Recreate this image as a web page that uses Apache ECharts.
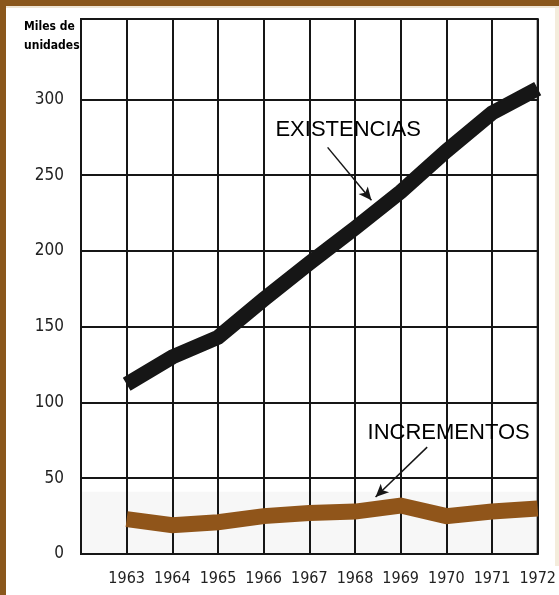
<!DOCTYPE html>
<html>
<head>
<meta charset="utf-8">
<script src="https://cdn.jsdelivr.net/npm/echarts@6/dist/echarts.min.js"></script>
<style>
html,body{margin:0;padding:0;background:#fff;}
#chart{width:559px;height:595px;}
</style>
</head>
<body>
<div id="chart"></div>
<script>
const years = [1963, 1964, 1965, 1966, 1967, 1968, 1969, 1970, 1971, 1972];
const existencias = [112, 130, 143, 168, 192, 215, 239, 266, 291, 307];
const incrementos = [23, 19, 21, 25, 27, 28, 32, 25, 28, 30];
const yTickLabels = [0, 50, 100, 150, 200, 250, 300];
const yGridValues = [50, 100, 150, 200, 250, 300];
const axisTitle = 'Miles de\nunidades';
const labelExistencias = 'EXISTENCIAS';
const labelIncrementos = 'INCREMENTOS';

const narrow = "'Liberation Sans Narrow', 'DejaVu Sans Condensed', 'Liberation Sans', sans-serif";
const ink = '#161616';
const brown = '#90551a';

const chart = echarts.init(document.getElementById('chart'), null, {renderer: 'canvas'});

const pairs = (vals) => years.map((y, i) => [y, vals[i]]);

chart.setOption({
  backgroundColor: '#ffffff',
  animation: false,
  title: {
    text: axisTitle,
    left: 19, top: 12,
    textStyle: {fontFamily: narrow, fontSize: 12, fontWeight: 'bold', color: '#000', lineHeight: 19}
  },
  grid: {
    left: 81, right: 11, top: 19, bottom: 41,
    show: true, borderColor: ink, borderWidth: 2, backgroundColor: 'transparent'
  },
  xAxis: {
    type: 'value', min: 1962, max: 1972, interval: 1,
    axisLine: {show: true, lineStyle: {color: ink, width: 2}},
    axisTick: {show: false},
    splitLine: {show: true, lineStyle: {color: ink, width: 2}},
    axisLabel: {
      margin: 17, fontFamily: narrow, fontSize: 16, color: '#222',
      formatter: (v) => years.indexOf(v) >= 0 ? String(v) : ''
    }
  },
  yAxis: {
    type: 'value', min: 0, max: 353, interval: 50,
    axisLine: {show: true, lineStyle: {color: ink, width: 2}},
    axisTick: {show: false},
    splitLine: {show: false},
    axisLabel: {
      margin: 17, fontFamily: narrow, fontSize: 17, color: '#222',
      formatter: (v) => yTickLabels.indexOf(v) >= 0 ? String(v) : ''
    }
  },
  series: [
    {
      name: 'grid', type: 'line', data: pairs(existencias), silent: true, z: 1,
      showSymbol: false, lineStyle: {width: 0, opacity: 0},
      markArea: {
        silent: true, z: 0,
        itemStyle: {color: 'rgba(40,40,20,0.035)'},
        data: [[{yAxis: 0}, {yAxis: 41}]]
      },
      markLine: {
        silent: true, z: 1, symbol: ['none', 'none'],
        label: {show: false},
        lineStyle: {color: ink, width: 2, type: 'solid'},
        data: yGridValues.map(v => ({yAxis: v}))
      }
    },
    {
      name: 'EXISTENCIAS', type: 'line', data: pairs(existencias), z: 6,
      showSymbol: false, silent: true,
      lineStyle: {color: ink, width: 15, cap: 'butt', join: 'miter'},
      markLine: {
        silent: true, z: 7, symbol: ['none', 'arrow'], symbolSize: [9, 13],
        label: {show: false},
        lineStyle: {color: ink, width: 1.5, type: 'solid'},
        data: [
          [{coord: [1967.40, 268.3]}, {coord: [1968.36, 233.4]}],
          [{coord: [1969.58, 70.5]}, {coord: [1968.45, 37.6]}]
        ]
      },
      markPoint: {
        silent: true, z: 7, symbol: 'circle', symbolSize: 0,
        label: {show: true, position: 'inside', fontFamily: "'Liberation Sans', Arial, sans-serif", fontSize: 22, color: '#000',
          formatter: (p) => p.name},
        data: [
          {name: labelExistencias, coord: [1967.85, 279.5]},
          {name: labelIncrementos, coord: [1970.05, 79.8]}
        ]
      }
    },
    {
      name: 'INCREMENTOS', type: 'line', data: pairs(incrementos), z: 6,
      showSymbol: false, silent: true,
      lineStyle: {color: brown, width: 16, cap: 'butt', join: 'miter'}
    }
  ],
  graphic: [
    {type: 'rect', z: 100, silent: true, shape: {x: 0, y: 0, width: 6, height: 595}, style: {fill: '#8a571c'}},
    {type: 'rect', z: 100, silent: true, shape: {x: 0, y: 0, width: 559, height: 6}, style: {fill: '#8a571c'}},
    {type: 'rect', z: 99, silent: true, shape: {x: 6, y: 6, width: 553, height: 2}, style: {fill: '#efe6d6'}},
    {type: 'rect', z: -1, silent: true, shape: {x: 555, y: 6, width: 4, height: 560}, style: {fill: '#f4ecdc'}}
  ]
});
</script>
</body>
</html>
